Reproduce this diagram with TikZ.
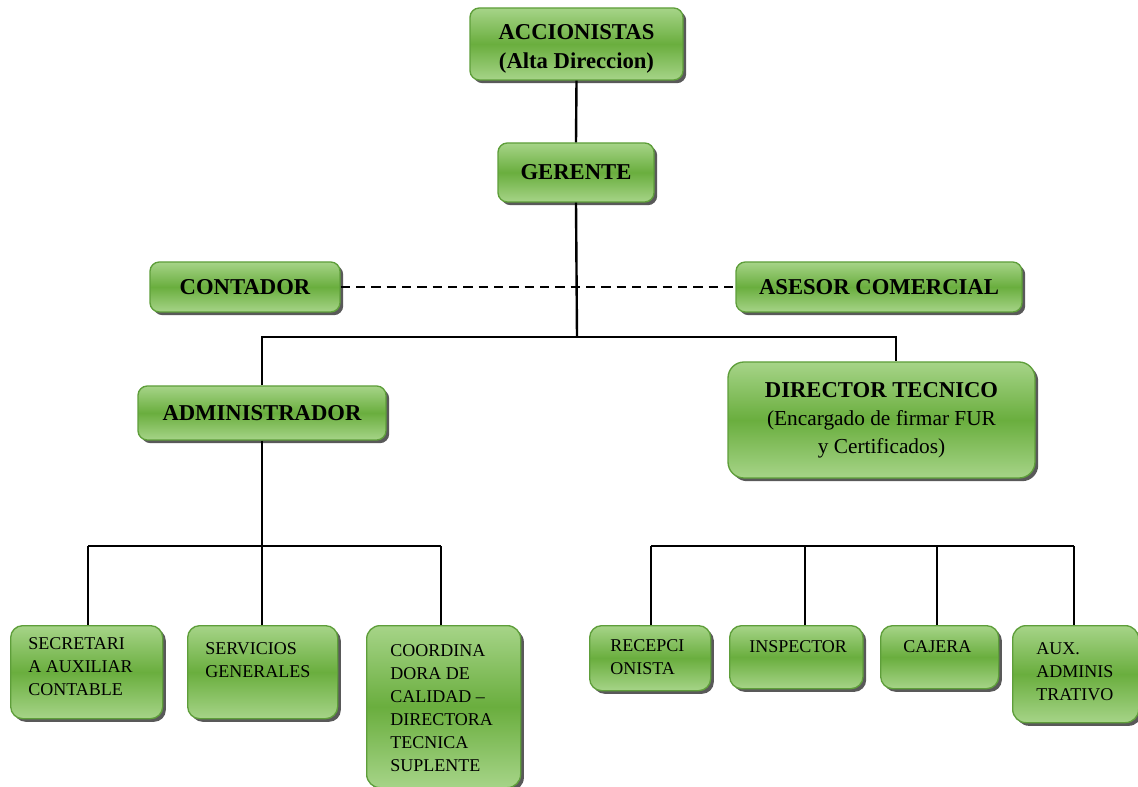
\documentclass[tikz,border=0pt]{standalone}
\usepackage{fontspec}
\setmainfont{Liberation Serif}
\usetikzlibrary{shadows}

\definecolor{boxlight}{HTML}{A6D488}
\definecolor{boxmid}{HTML}{6AAE3E}
\definecolor{boxedge}{HTML}{5E9E3A}

\pgfdeclareverticalshading{boxshade}{100bp}{
  color(0bp)=(boxlight); color(25bp)=(boxlight); color(50bp)=(boxmid);
  color(75bp)=(boxlight); color(100bp)=(boxlight)}

\begin{document}
\begin{tikzpicture}[x=0.75pt,y=-0.75pt,
  orgbox/.style={draw=boxedge, line width=1pt, rounded corners=7pt,
    shading=boxshade, shade,
    drop shadow={shadow xshift=2.4pt, shadow yshift=-2.4pt, fill=black!65, opacity=1},
    inner sep=0pt},
  head/.style={font=\bfseries\fontsize{17}{21.5}\selectfont, align=center},
  small/.style={font=\fontsize{13.5}{17.25}\selectfont, align=left,
    anchor=north west, inner sep=0pt},
  link/.style={line width=1.8pt, black},
  dotted link/.style={link, dash pattern=on 7pt off 4.5pt}]

\useasboundingbox (0,0) rectangle (1138,787);

% upper levels
\node[orgbox, head, minimum width=159.75pt, minimum height=54pt] (acc) at (576.5,44)
  {\rule{0pt}{19pt}ACCIONISTAS\\(Alta Direccion)};
\node[orgbox, head, minimum width=117pt, minimum height=44.25pt] (ger) at (576,172.5)
  {GERENTE};
\node[orgbox, head, minimum width=142.5pt, minimum height=37.5pt] (cont) at (245,287)
  {CONTADOR};
\node[orgbox, head, minimum width=214.5pt, minimum height=37.5pt] (ases) at (879,287)
  {ASESOR COMERCIAL};
\node[orgbox, head, minimum width=186pt, minimum height=40.5pt] (adm) at (262,413)
  {ADMINISTRADOR};
\node[orgbox, rounded corners=12pt, align=center,
  font=\fontsize{16}{21}\selectfont, minimum width=230.25pt, minimum height=87pt] (dir) at (881.5,420)
  {{\bfseries\fontsize{17}{21}\selectfont DIRECTOR TECNICO}\\(Encargado de firmar FUR\\y Certificados)};

% lower level boxes
\node[orgbox, rounded corners=9pt, minimum width=114pt, minimum height=69.75pt, anchor=north west] (sec) at (10,625) {};
\node[orgbox, rounded corners=9pt, minimum width=112.5pt, minimum height=69.75pt, anchor=north west] (serv) at (187,625) {};
\node[orgbox, rounded corners=10pt, minimum width=115.5pt, minimum height=121.5pt, anchor=north west] (coord) at (366,625) {};
\node[orgbox, rounded corners=9pt, minimum width=90.75pt, minimum height=48.75pt, anchor=north west] (recep) at (589,625) {};
\node[orgbox, rounded corners=9pt, minimum width=100pt, minimum height=47.25pt, anchor=north west] (insp) at (729,625) {};
\node[orgbox, rounded corners=9pt, minimum width=88.5pt, minimum height=47.25pt, anchor=north west] (caj) at (880,625) {};
\node[orgbox, rounded corners=10pt, minimum width=94.5pt, minimum height=72.75pt, anchor=north west] (aux) at (1012,625) {};

\node[small] (sec-t) at (28,637) {SECRETARI\\A AUXILIAR\\CONTABLE};
\node[small] (serv-t) at (205,642) {SERVICIOS\\GENERALES};
\node[small] (coord-t) at (390,644) {COORDINA\\DORA DE\\CALIDAD –\\DIRECTORA\\TECNICA\\SUPLENTE};
\node[small] (recep-t) at (610,639) {RECEPCI\\ONISTA};
\node[small] (insp-t) at (749,640) {INSPECTOR};
\node[small] (caj-t) at (903,640) {CAJERA};
\node[small] (aux-t) at (1036,642) {AUX.\\ADMINIS\\TRATIVO};

% bus coordinates
\coordinate (jtop) at (577,337);
\coordinate (dirdrop) at (896,337);
\coordinate (lbus) at (262,546);
\coordinate (lb1) at (88,546);
\coordinate (lb3) at (441,546);
\coordinate (rb1) at (651,546);
\coordinate (rb2) at (805,546);
\coordinate (rb3) at (937,546);
\coordinate (rb4) at (1074,546);

% connectors
\draw[link] (acc.south) -- (ger.north);
\draw[link] (ger.south) -- (jtop);
\draw[link] (adm.north) |- (dirdrop) -- (dirdrop |- dir.north);
\draw[dotted link] (cont.east) -- (ases.west);

\draw[link] (adm.south) -- (lbus);
\draw[link] (lb1) -- (lb3);
\draw[link] (lb1) -- (lb1 |- sec.north);
\draw[link] (lbus) -- (lbus |- serv.north);
\draw[link] (lb3) -- (lb3 |- coord.north);

\draw[link] (rb1) -- (rb4);
\draw[link] (rb1) -- (rb1 |- recep.north);
\draw[link] (rb2) -- (rb2 |- insp.north);
\draw[link] (rb3) -- (rb3 |- caj.north);
\draw[link] (rb4) -- (rb4 |- aux.north);

\end{tikzpicture}
\end{document}
